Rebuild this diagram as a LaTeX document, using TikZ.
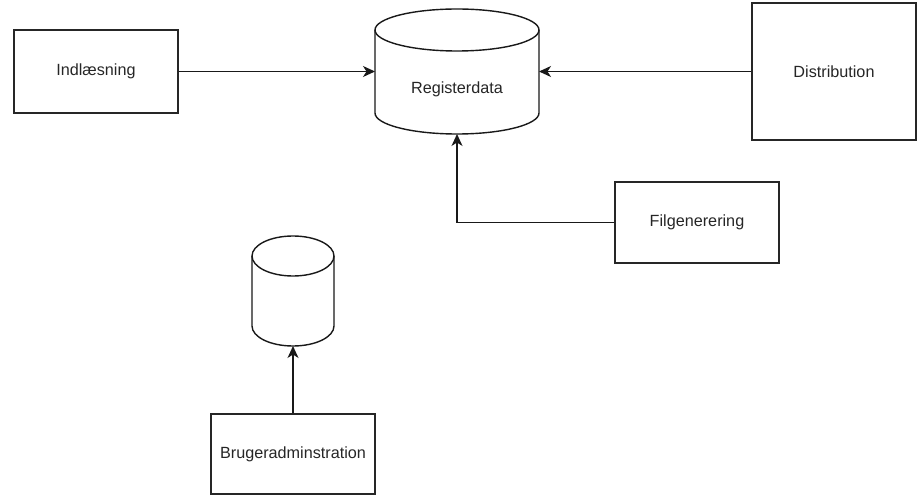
\documentclass[tikz,border=0pt]{standalone}
\usepackage{fontspec}
\setmainfont{Liberation Sans}
\usetikzlibrary{arrows.meta}
\begin{document}
\begin{tikzpicture}[x=1pt,y=1pt,
  every node/.style={font=\fontsize{16.2}{19}\selectfont, text=black!85},
  boxnode/.style={draw=black!85, line width=1.4pt, inner sep=0pt, anchor=center},
  cyl/.style={draw=black!90, line width=1.4pt, fill=white},
  conn/.style={line width=1.4pt, draw=black!90, -{Stealth[length=12pt,width=11pt,inset=3.5pt]}}]
\useasboundingbox (0,0) rectangle (918,496);
% boxes
\node[boxnode, minimum width=164pt, minimum height=83pt] (ind) at (96,424.5) {Indlæsning};
\node[boxnode, minimum width=164pt, minimum height=137pt] (dist) at (834,424.5) {Distribution};
\node[boxnode, minimum width=164pt, minimum height=81pt] (fil) at (697,273.5) {Filgenerering};
\node[boxnode, minimum width=164pt, minimum height=80pt] (bru) at (293,42) {Brugeradminstration};
% Registerdata cylinder
\draw[cyl] (375,466) -- (375,383) arc[start angle=180, end angle=360, x radius=82, y radius=21] -- (539,466);
\draw[cyl] (457,466) ellipse [x radius=82, y radius=21];
\node (reg) at (457,407) {Registerdata};
\coordinate (regw) at (375,424.5);
\coordinate (rege) at (539,424.5);
\coordinate (regs) at (457,362);
% small cylinder
\draw[cyl] (252,240) -- (252,170) arc[start angle=180, end angle=360, x radius=41, y radius=20] -- (334,240);
\draw[cyl] (293,240) ellipse [x radius=41, y radius=20];
\coordinate (db2s) at (293,150);
\coordinate (bend) at (457,273.5);
% connectors
\draw[conn] (ind.east) -- (regw);
\draw[conn] (dist.west) -- (rege);
\draw[conn] (fil.west) -- (bend) -- (regs);
\draw[conn] (bru.north) -- (db2s);
\end{tikzpicture}
\end{document}
